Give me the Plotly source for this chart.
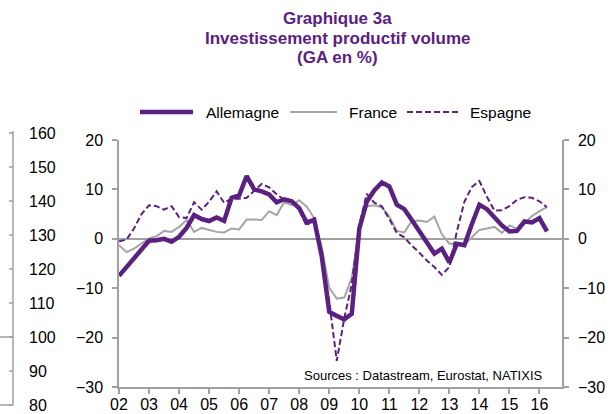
import plotly.graph_objects as go

# ---- data (annual growth, %, quarterly from 2002Q1 to 2016Q2) ----
start_year = 2002
n_quarters = 58
quarters = [start_year + q / 4 for q in range(n_quarters)]

allemagne = [-7.5, -5.7, -4.0, -2.2, -0.4, -0.3, 0.0, -0.6, 0.4, 2.2,
             4.8, 4.0, 3.6, 4.3, 3.6, 8.3, 8.8, 12.7, 10.0, 9.6,
             9.0, 7.4, 8.0, 7.6, 6.2, 3.3, 3.8, -3.5, -14.8, -15.6,
             -16.3, -15.2, 2.0, 7.5, 9.8, 11.4, 10.6, 6.9, 6.0, 3.8,
             1.6, -1.0, -3.0, -2.0, -4.8, -1.0, -1.3, 3.0, 6.9, 6.0,
             4.3, 2.7, 1.5, 1.6, 3.5, 3.3, 4.2, 1.5]

france = [-1.3, -2.7, -2.0, -1.0, 0.1, 0.5, 1.6, 1.4, 2.4, 3.8,
          1.4, 2.2, 1.8, 1.4, 1.3, 2.1, 1.9, 3.9, 3.9, 3.8,
          5.6, 4.8, 7.4, 6.8, 7.8, 6.5, 4.2, -1.7, -9.9, -12.1,
          -11.9, -7.9, 2.1, 6.6, 6.8, 6.4, 4.5, 1.6, 1.3, 3.6,
          3.7, 3.4, 4.5, 0.9, -1.0, -1.0, -1.2, 0.4, 1.8, 2.1,
          2.4, 1.2, 2.7, 2.0, 3.1, 4.6, 5.6, 6.4]

espagne = [-0.5, -0.2, 2.1, 5.0, 6.8, 6.6, 5.9, 6.6, 4.4, 4.2,
           7.4, 5.9, 7.5, 9.6, 7.3, 8.1, 8.1, 8.3, 9.7, 11.1,
           10.4, 9.0, 7.9, 7.8, 5.8, 2.6, 4.3, -3.7, -12.7, -24.7,
           -16.1, -9.2, 2.8, 9.1, 7.3, 6.6, 4.0, 1.2, 0.3, -1.4,
           -2.8, -4.4, -5.7, -7.3, -5.7, 1.5, 7.5, 10.5, 11.7, 8.5,
           5.7, 5.8, 6.6, 7.9, 8.4, 8.3, 7.6, 6.4]

series_names = ["Allemagne", "France", "Espagne"]

year_ticks = list(range(2002, 2017))
year_labels = ["02", "03", "04", "05", "06", "07", "08", "09", "10",
               "11", "12", "13", "14", "15", "16"]
y_ticks = [-30, -20, -10, 0, 10, 20]
# tick labels of the neighbouring (cropped) chart visible at the far left
left_ticks = [80, 90, 100, 110, 120, 130, 140, 150, 160]

title_lines = ["Graphique 3a", "Investissement productif volume", "(GA en %)"]

# ---- styling ----
PURPLE = "#5B2181"
GRAY = "#A5A5A5"
AXIS = "#A0A0A0"
FONT = "Liberation Sans, Arial, sans-serif"

styles = {
    "Allemagne": dict(color=PURPLE, width=4.5),
    "France": dict(color=GRAY, width=2),
    "Espagne": dict(color=PURPLE, width=2, dash="6px,3px"),
}

W, H = 615, 414
ML, MR, MT, MB = 119, 53, 140, 27
PW = W - ML - MR
PH = H - MT - MB

def px_x(px):
    return (px - ML) / PW

def px_y(py):
    return (H - MB - py) / PH

fig = go.Figure()
fig.add_trace(go.Scatter(x=quarters, y=france, name="France", mode="lines",
                         line=styles["France"]))
fig.add_trace(go.Scatter(x=quarters, y=espagne, name="Espagne", mode="lines",
                         line=styles["Espagne"]))
fig.add_trace(go.Scatter(x=quarters, y=allemagne, name="Allemagne", mode="lines",
                         line=styles["Allemagne"]))
# carrier for the right-hand axis
fig.add_trace(go.Scatter(x=quarters, y=allemagne, yaxis="y2", mode="lines",
                         line=dict(color="rgba(0,0,0,0)", width=0),
                         showlegend=False, hoverinfo="skip"))

fig.update_layout(
    width=W, height=H,
    margin=dict(l=ML, r=MR, t=MT, b=MB, autoexpand=False),
    paper_bgcolor="white", plot_bgcolor="white",
    font=dict(family=FONT, size=16, color="black"),
    showlegend=False,
    xaxis=dict(range=[2002, 2016.75],
               tickvals=year_ticks, ticktext=year_labels,
               showgrid=False, zeroline=False, showline=True,
               linecolor=AXIS, linewidth=1.5, automargin=False,
               ticks="outside", ticklen=5, tickcolor=AXIS, tickwidth=1.5,
               ticklabelstandoff=-3),
    yaxis=dict(range=[-30, 20], tickvals=y_ticks, automargin=False,
               showgrid=False, zeroline=True, zerolinecolor=AXIS, zerolinewidth=2,
               showline=True, linecolor=AXIS, linewidth=1.5,
               ticks="outside", ticklen=5, tickcolor=AXIS, tickwidth=1.5,
               ticklabelstandoff=6),
    yaxis2=dict(overlaying="y", side="right", anchor="x", range=[-30, 20],
                tickvals=y_ticks, showgrid=False, zeroline=False, automargin=False,
                showline=True, linecolor=AXIS, linewidth=1.5,
                ticks="outside", ticklen=5, tickcolor=AXIS, tickwidth=1.5,
                ticklabelstandoff=6),
)

# title (three centred lines)
for txt, py in zip(title_lines, [18, 38, 57]):
    fig.add_annotation(text="<b>" + txt + "</b>", xref="paper", yref="paper",
                       x=px_x(337), y=px_y(py), xanchor="center", yanchor="middle",
                       showarrow=False,
                       font=dict(family=FONT, size=17, color=PURPLE))

# legend (long line samples as in the original)
legend_pos = {"Allemagne": (140, 193, 204), "France": (290, 337, 347),
              "Espagne": (407, 458, 468)}
for name in series_names:
    x0, x1, xt = legend_pos[name]
    fig.add_shape(type="line", xref="paper", yref="paper",
                  x0=px_x(x0), x1=px_x(x1), y0=px_y(112), y1=px_y(112),
                  line=styles[name])
    fig.add_annotation(text=name, xref="paper", yref="paper",
                       x=px_x(xt), y=px_y(112), xanchor="left", yanchor="middle",
                       showarrow=False, font=dict(family=FONT, size=15.5, color="black"))

fig.add_annotation(text="Sources : Datastream, Eurostat, NATIXIS",
                   xref="paper", yref="paper", x=px_x(545), y=px_y(375),
                   xanchor="right", yanchor="middle", showarrow=False,
                   font=dict(family=FONT, size=13, color="black"))

# remnant of the neighbouring chart's axis at the far left
def left_py(v):
    return 405 - (v - left_ticks[0]) * (405 - 133) / (left_ticks[-1] - left_ticks[0])

fig.add_shape(type="line", xref="paper", yref="paper",
              x0=px_x(13), x1=px_x(13), y0=px_y(405), y1=px_y(131),
              line=dict(color=AXIS, width=1.5))
for v in left_ticks:
    py = left_py(v)
    fig.add_shape(type="line", xref="paper", yref="paper",
                  x0=px_x(9), x1=px_x(13), y0=px_y(py), y1=px_y(py),
                  line=dict(color=AXIS, width=1.5))
    fig.add_annotation(text=str(v), xref="paper", yref="paper",
                       x=px_x(27), y=px_y(py), xanchor="left", yanchor="middle",
                       showarrow=False, font=dict(family=FONT, size=16, color="black"))
for v in (100, 80):
    py = left_py(v)
    fig.add_shape(type="line", xref="paper", yref="paper",
                  x0=px_x(0), x1=px_x(13), y0=px_y(py), y1=px_y(py),
                  line=dict(color=AXIS, width=1.5))

fig.write_html("out.html", config={"displayModeBar": False},
               post_script="document.body.style.margin='0';"
                           "document.body.style.overflow='hidden';")
